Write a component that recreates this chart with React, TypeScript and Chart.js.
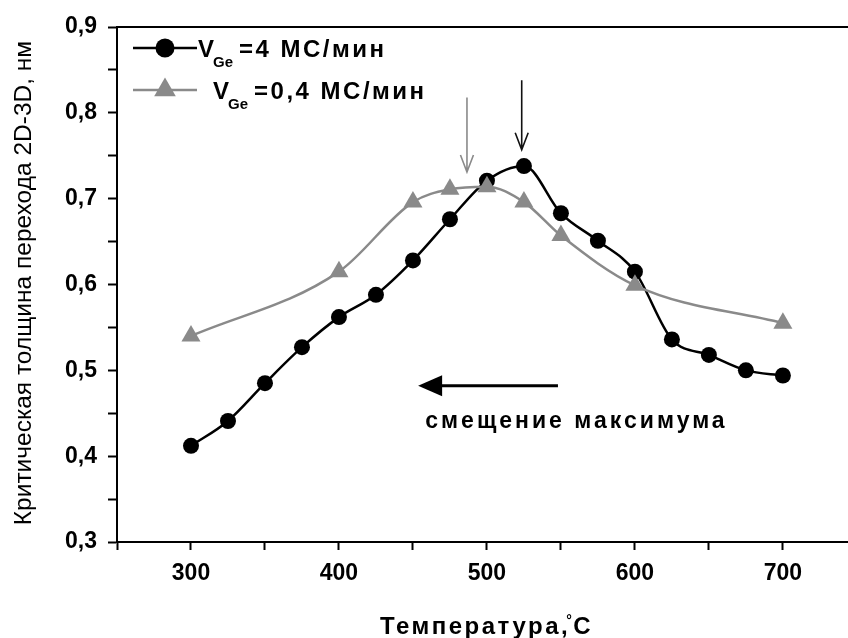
import { useEffect, useRef } from 'react';
import { Chart, registerables } from 'chart.js';

Chart.register(...registerables);

// ---- data ----
const tempFast = [300, 325, 350, 375, 400, 425, 450, 475, 500, 525, 550, 575, 600, 625, 650, 675, 700];
const thickFast = [0.412, 0.441, 0.485, 0.527, 0.562, 0.588, 0.628, 0.676, 0.721, 0.738, 0.683, 0.651, 0.615, 0.536, 0.518, 0.5, 0.494];

const tempSlow = [300, 400, 450, 475, 500, 525, 550, 600, 700];
const thickSlow = [0.54, 0.615, 0.696, 0.711, 0.714, 0.696, 0.657, 0.599, 0.555];

const xTickValues = [250, 300, 350, 400, 450, 500, 550, 600, 650, 700];
const yTickValues = [0.3, 0.35, 0.4, 0.45, 0.5, 0.55, 0.6, 0.65, 0.7, 0.75, 0.8, 0.85, 0.9];

const legendFast = { sub: 'Ge', rest: '=4 МС/мин' };
const legendSlow = { sub: 'Ge', rest: '=0,4 МС/мин' };
const xTitleMain = 'Температура,';
const xTitleUnit = 'C';
const yTitle = 'Критическая толщина перехода 2D-3D, нм';
const shiftLabel = 'смещение максимума';

// annotation anchors (data units)
const arrowFast = { x: 523.5, yTop: 0.838, yTip: 0.757 };
const arrowSlow = { x: 486.5, yTop: 0.818, yTip: 0.731 };
const shiftArrow = { xFrom: 548, xTo: 453.5, y: 0.482 };
const shiftText = { x: 560.5, y: 0.44 };

const FONT = "'Liberation Sans', Arial, sans-serif";
const GRAY = '#8a8a8a';

const overlay = {
  id: 'overlay',
  afterDraw(chart: any) {
    const { ctx, chartArea } = chart;
    const xs = chart.scales.x;
    const ys = chart.scales.y;
    ctx.save();
    // top frame line
    ctx.strokeStyle = '#000';
    ctx.lineWidth = 2;
    ctx.beginPath();
    ctx.moveTo(chartArea.left - 1, chartArea.top);
    ctx.lineTo(chartArea.right, chartArea.top);
    ctx.stroke();

    // thin vertical arrows
    const thin = (a: any, color: string) => {
      const px = xs.getPixelForValue(a.x);
      const p0 = ys.getPixelForValue(a.yTop);
      const p1 = ys.getPixelForValue(a.yTip);
      ctx.strokeStyle = color;
      ctx.lineWidth = 1.6;
      ctx.beginPath();
      ctx.moveTo(px, p0);
      ctx.lineTo(px, p1);
      ctx.moveTo(px - 6.5, p1 - 17);
      ctx.lineTo(px, p1);
      ctx.lineTo(px + 6.5, p1 - 17);
      ctx.stroke();
    };
    thin(arrowSlow, GRAY);
    thin(arrowFast, '#111');

    // shift arrow
    const ax0 = xs.getPixelForValue(shiftArrow.xFrom);
    const ax1 = xs.getPixelForValue(shiftArrow.xTo);
    const ay = ys.getPixelForValue(shiftArrow.y);
    ctx.strokeStyle = '#000';
    ctx.fillStyle = '#000';
    ctx.lineWidth = 3;
    ctx.beginPath();
    ctx.moveTo(ax0, ay);
    ctx.lineTo(ax1 + 20, ay);
    ctx.stroke();
    ctx.beginPath();
    ctx.moveTo(ax1, ay);
    ctx.lineTo(ax1 + 24, ay - 10.5);
    ctx.lineTo(ax1 + 24, ay + 10.5);
    ctx.closePath();
    ctx.fill();

    // shift label
    ctx.font = `bold 23px ${FONT}`;
    (ctx as any).letterSpacing = '3px';
    ctx.textAlign = 'center';
    ctx.textBaseline = 'middle';
    ctx.fillStyle = '#000';
    ctx.fillText(shiftLabel, xs.getPixelForValue(shiftText.x), ys.getPixelForValue(shiftText.y));

    // legend
    ctx.textAlign = 'left';
    ctx.textBaseline = 'alphabetic';
    const row = (yc: number, color: string, marker: string, textX: number, item: any) => {
      ctx.strokeStyle = color;
      ctx.fillStyle = color;
      ctx.lineWidth = 2.5;
      ctx.beginPath();
      ctx.moveTo(133, yc);
      ctx.lineTo(197, yc);
      ctx.stroke();
      ctx.beginPath();
      if (marker === 'circle') {
        ctx.arc(165, yc, 9.5, 0, Math.PI * 2);
      } else {
        const r = 12.5;
        ctx.moveTo(165, yc - r);
        ctx.lineTo(165 + r * 0.866, yc + r * 0.5);
        ctx.lineTo(165 - r * 0.866, yc + r * 0.5);
        ctx.closePath();
      }
      ctx.fill();
      ctx.fillStyle = '#000';
      (ctx as any).letterSpacing = '0px';
      ctx.font = `bold 24px ${FONT}`;
      ctx.fillText('V', textX, yc + 9);
      const vw = ctx.measureText('V').width;
      ctx.font = `bold 15px ${FONT}`;
      ctx.fillText(item.sub, textX + vw - 1, yc + 19);
      const sw = ctx.measureText(item.sub).width;
      ctx.font = `bold 24px ${FONT}`;
      (ctx as any).letterSpacing = '2.5px';
      ctx.fillText(item.rest, textX + vw + sw + 5, yc + 9);
    };
    row(48, '#000', 'circle', 198, legendFast);
    row(90, GRAY, 'triangle', 213, legendSlow);

    // x title
    ctx.font = `bold 24px ${FONT}`;
    (ctx as any).letterSpacing = '2.5px';
    ctx.fillStyle = '#000';
    const tx = 380;
    const tb = 634;
    ctx.fillText(xTitleMain, tx, tb);
    const mw = ctx.measureText(xTitleMain).width;
    ctx.font = `bold 14px ${FONT}`;
    (ctx as any).letterSpacing = '0px';
    ctx.fillText('°', tx + mw - 4, tb - 9);
    ctx.font = `bold 24px ${FONT}`;
    (ctx as any).letterSpacing = '2.5px';
    ctx.fillText(xTitleUnit, tx + mw + 3, tb);

    // y title
    ctx.save();
    ctx.translate(24, 283);
    ctx.rotate(-Math.PI / 2);
    ctx.font = `24.5px ${FONT}`;
    (ctx as any).letterSpacing = '0px';
    ctx.textAlign = 'center';
    ctx.textBaseline = 'middle';
    ctx.fillText(yTitle, 0, 0);
    ctx.restore();

    ctx.restore();
  },
};

export default function App() {
  const ref = useRef<HTMLCanvasElement>(null);
  useEffect(() => {
    document.body.style.margin = '0';
    const canvas = ref.current!;
    const chart = new Chart(canvas, {
      type: 'line',
      data: {
        datasets: [
          {
            label: 'slow',
            data: tempSlow.map((t, i) => ({ x: t, y: thickSlow[i] })),
            borderColor: GRAY,
            backgroundColor: GRAY,
            borderWidth: 2.5,
            pointStyle: 'triangle',
            pointRadius: 11,
            pointBorderWidth: 0,
            cubicInterpolationMode: 'monotone',
            order: 0,
          },
          {
            label: 'fast',
            data: tempFast.map((t, i) => ({ x: t, y: thickFast[i] })),
            borderColor: '#000',
            backgroundColor: '#000',
            borderWidth: 2.5,
            pointStyle: 'circle',
            pointRadius: 8,
            pointBorderWidth: 0,
            cubicInterpolationMode: 'monotone',
            order: 1,
          },
        ],
      },
      options: {
        animation: false,
        responsive: false,
        devicePixelRatio: 1,
        layout: { autoPadding: false, padding: { top: 27, right: 0, left: 0, bottom: 0 } },
        plugins: { legend: { display: false }, tooltip: { enabled: false } },
        scales: {
          x: {
            type: 'linear',
            min: 250,
            max: 744,
            afterBuildTicks: (s: any) => {
              s.ticks = xTickValues.map((v) => ({ value: v }));
            },
            afterFit: (s: any) => {
              s.height = 96;
            },
            ticks: {
              autoSkip: false,
              maxRotation: 0,
              padding: 10,
              color: '#000',
              font: { family: FONT, size: 23, weight: 'bold' },
              callback: (v: any) => (Number(v) % 100 === 0 ? String(v) : ''),
            },
            grid: { display: true, drawOnChartArea: false, drawTicks: true, tickLength: 8, tickWidth: 2, tickColor: '#000' },
            border: { display: true, color: '#000', width: 2 },
          },
          y: {
            type: 'linear',
            min: 0.3,
            max: 0.9,
            afterBuildTicks: (s: any) => {
              s.ticks = yTickValues.map((v) => ({ value: v }));
            },
            afterFit: (s: any) => {
              s.width = 117;
            },
            ticks: {
              autoSkip: false,
              padding: 11,
              color: '#000',
              font: { family: FONT, size: 23, weight: 'bold' },
              callback: (v: any) => {
                const n = Math.round(Number(v) * 100);
                return n % 10 === 0 ? (n / 100).toFixed(1).replace('.', ',') : '';
              },
            },
            grid: { display: true, drawOnChartArea: false, drawTicks: true, tickLength: 9, tickWidth: 2, tickColor: '#000' },
            border: { display: true, color: '#000', width: 2 },
          },
        },
      },
      plugins: [overlay],
    } as any);
    return () => chart.destroy();
  }, []);
  return <canvas ref={ref} width={848} height={638} style={{ display: 'block' }} />;
}
